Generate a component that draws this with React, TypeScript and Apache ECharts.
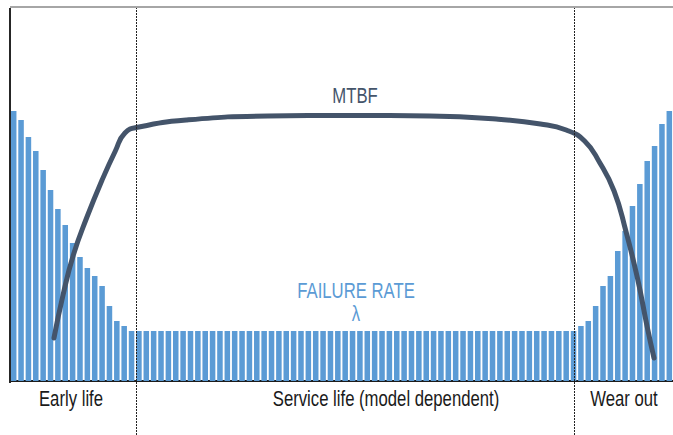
import React, { useEffect, useRef } from "react";
import * as echarts from "echarts";

// Failure rate (bar heights, arbitrary units above the baseline)
const failureRate: number[] = [
  270, 261, 244, 230, 211, 191, 172, 156, 138, 124, 113, 105, 95, 75, 60, 55,
  50, 50, 50, 50, 50, 50, 50, 50, 50, 50,
  50, 50, 50, 50, 50, 50, 50, 50, 50, 50,
  50, 50, 50, 50, 50, 50, 50, 50, 50, 50,
  50, 50, 50, 50, 50, 50, 50, 50, 50, 50,
  50, 50, 50, 50, 50, 50, 50, 50, 50, 50,
  50, 50, 50, 50, 50, 50, 50, 50, 50, 50,
  50,
  55, 60, 75, 95, 105, 130, 150, 175, 197, 220, 235, 257, 270,
];

// Time buckets (categories)
const categories: string[] = failureRate.map((_, i) => String(i + 1));

// MTBF curve: [time position, value]
const mtbfCurve: number[][] = [
  [5.97, 43], [7.2, 86], [8.6, 126], [10.45, 164], [12.5, 201], [14.3, 230],
  [15.6, 248], [17.5, 254], [24, 261], [35, 265], [46, 265.5], [57, 265],
  [66, 262], [72, 257], [75.5, 251], [78, 240], [80, 219], [82, 190],
  [83.6, 150], [85.2, 102], [86.5, 54], [87.42, 23],
];

// Phase dividers (time positions)
const dividers: number[] = [17.1, 76.55];
const phaseLabels: string[] = ["Early life", "Service life (model dependent)", "Wear out"];

const Y_MIN = -54;
const Y_MAX = 374;

export default function App() {
  const ref = useRef<HTMLDivElement>(null);

  useEffect(() => {
    if (!ref.current) return;
    const chart = echarts.init(ref.current, undefined, { renderer: "svg" });
    const n = failureRate.length;
    const font = "Liberation Sans, Arial, sans-serif";

    const txt = (text: string, x: number, y: number, fill: string) => ({
      type: "text",
      x,
      y,
      scaleX: 0.76,
      silent: true,
      style: {
        text,
        fontSize: 22,
        fontFamily: font,
        fill,
        align: "center",
        verticalAlign: "middle",
        textAlign: "center",
        textVerticalAlign: "middle",
      },
    });

    const option: any = {
      animation: false,
      backgroundColor: "#ffffff",
      grid: { left: 10, right: 0, top: 7, bottom: 0, containLabel: false },
      xAxis: [
        {
          type: "category",
          data: categories,
          boundaryGap: true,
          axisLine: { show: true, onZero: true, lineStyle: { color: "#1c1c1c", width: 2 } },
          axisTick: { show: false },
          axisLabel: { show: false },
          splitLine: { show: false },
        },
        { type: "value", min: 0, max: n, show: false, splitLine: { show: false } },
      ],
      yAxis: { type: "value", min: Y_MIN, max: Y_MAX, show: false, splitLine: { show: false } },
      series: [
        {
          type: "bar",
          data: failureRate,
          xAxisIndex: 0,
          barCategoryGap: "25%",
          itemStyle: { color: "#5b9bd5" },
          silent: true,
        },
        {
          type: "line",
          xAxisIndex: 1,
          data: mtbfCurve,
          smooth: 0.5,
          symbol: "none",
          clip: false,
          silent: true,
          lineStyle: { color: "#44546a", width: 5, cap: "round" },
          markLine: {
            silent: true,
            symbol: ["none", "none"],
            label: { show: false },
            emphasis: { disabled: true },
            data: [
              [
                { coord: [0, Y_MAX], lineStyle: { color: "#a6a6a6", width: 2, type: "solid" } },
                { coord: [n, Y_MAX] },
              ],
              [
                { coord: [0, -2], lineStyle: { color: "#262626", width: 2, type: "solid" } },
                { coord: [0, 373] },
              ],
              ...dividers.map((d) => [
                { coord: [d, Y_MIN], lineStyle: { color: "#222222", width: 1, type: [2, 1] } },
                { coord: [d, 373] },
              ]),
            ],
          },
        },
      ],
      graphic: [
        txt("MTBF", 355, 95, "#44546a"),
        txt("FAILURE RATE", 356, 290, "#5b9bd5"),
        txt("λ", 356, 313, "#5b9bd5"),
        txt(phaseLabels[0], 71, 398, "#1a1a1a"),
        txt(phaseLabels[1], 386, 398, "#1a1a1a"),
        txt(phaseLabels[2], 624, 398, "#1a1a1a"),
      ],
    };

    chart.setOption(option);
    return () => chart.dispose();
  }, []);

  return (
    <div
      ref={ref}
      style={{ position: "fixed", left: 0, top: 0, width: 673, height: 435, background: "#fff" }}
    />
  );
}
